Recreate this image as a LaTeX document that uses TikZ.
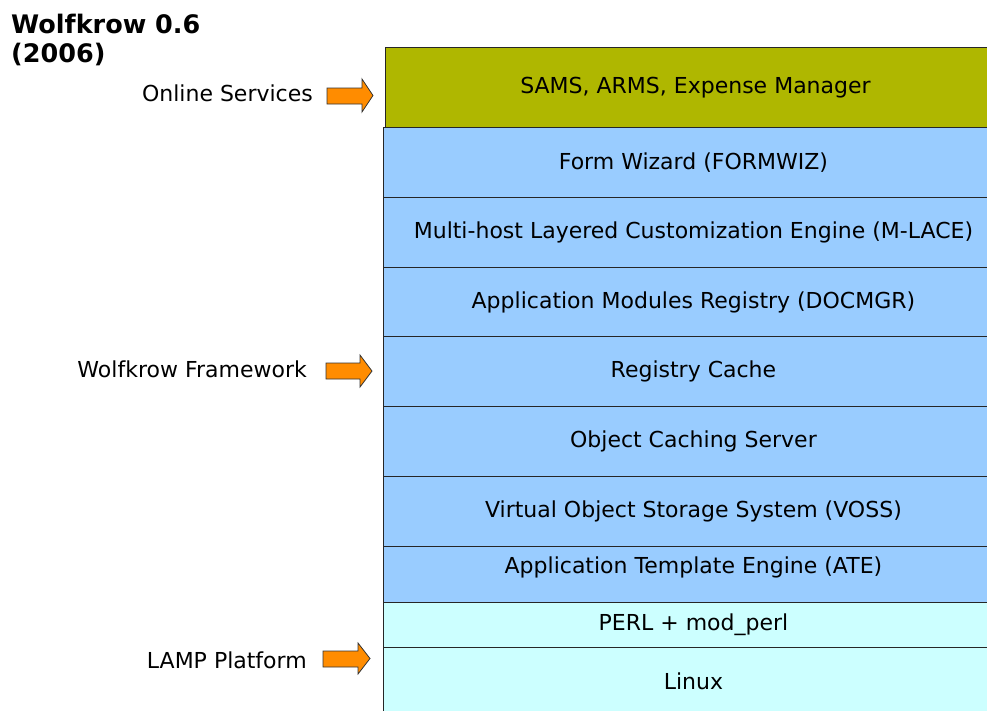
\documentclass[tikz,border=0pt]{standalone}
\usepackage{fontspec}
\setmainfont{DejaVu Sans}
\usetikzlibrary{positioning}

\definecolor{servicegreen}{HTML}{AFB700}
\definecolor{frameworkblue}{HTML}{99CCFF}
\definecolor{platformcyan}{HTML}{CCFFFF}
\definecolor{pointerorange}{HTML}{FF8C00}

\tikzset{
  layer/.style={draw=black!85, line width=0.9pt, anchor=north west,
    minimum width=620pt, inner sep=0pt,
    font=\fontsize{22}{26}\selectfont},
  servicelayer/.style={layer, fill=servicegreen},
  frameworklayer/.style={layer, fill=frameworkblue},
  platformlayer/.style={layer, fill=platformcyan},
  sidelabel/.style={anchor=base east, inner sep=0pt,
    font=\fontsize{22}{26}\selectfont},
  pointer/.style={draw=black!80, line width=0.8pt, fill=pointerorange,
    line join=miter}
}

\begin{document}
\begin{tikzpicture}[x=1pt, y=-1pt]
  \useasboundingbox (0,0) rectangle (987,710);
  \clip (0,0) rectangle (987,710);

  % Title
  \node [anchor=base west, inner sep=0pt, font=\fontsize{25.5}{29}\bfseries] (title) at (11,33) {Wolfkrow 0.6};
  \node [anchor=base west, inner sep=0pt, font=\fontsize{25.5}{29}\bfseries] (year) at (11,62) {(2006)};

  % Online services layer
  \node [servicelayer, minimum height=80pt] (sams) at (385,47) {SAMS, ARMS, Expense Manager};

  % Wolfkrow framework layers
  \node [frameworklayer, minimum height=70pt] (formwiz) at (383,127) {Form Wizard (FORMWIZ)};
  \node [frameworklayer, minimum height=70pt] (mlace) at (383,197) {Multi-host Layered Customization Engine (M-LACE)};
  \node [frameworklayer, minimum height=69pt] (docmgr) at (383,267) {Application Modules Registry (DOCMGR)};
  \node [frameworklayer, minimum height=70pt] (regcache) at (383,336) {Registry Cache};
  \node [frameworklayer, minimum height=70pt] (objcache) at (383,406) {Object Caching Server};
  \node [frameworklayer, minimum height=70pt] (voss) at (383,476) {Virtual Object Storage System (VOSS)};
  \node [frameworklayer, minimum height=56pt, text depth=19pt] (ate) at (383,546) {Application Template Engine (ATE)};

  % LAMP platform layers
  \node [platformlayer, minimum height=45pt] (perl) at (383,602) {PERL + mod\_perl};
  \node [platformlayer, minimum height=68pt] (linux) at (383,647) {Linux};

  % Side labels
  \node [sidelabel] (online) at (313,101) {Online Services};
  \node [sidelabel] (framework) at (307,377) {Wolfkrow Framework};
  \node [sidelabel] (lamp) at (307,668) {LAMP Platform};

  % Pointers to the layer groups
  \draw [pointer] (327,88) -- (362,88) -- (362,79) -- (373,95.5) -- (362,112) -- (362,104) -- (327,104) -- cycle;
  \draw [pointer] (326,363) -- (360,363) -- (360,355) -- (372,371) -- (360,387) -- (360,379) -- (326,379) -- cycle;
  \draw [pointer] (323,651) -- (358,651) -- (358,643) -- (370,658.5) -- (358,674) -- (358,667) -- (323,667) -- cycle;
\end{tikzpicture}
\end{document}
